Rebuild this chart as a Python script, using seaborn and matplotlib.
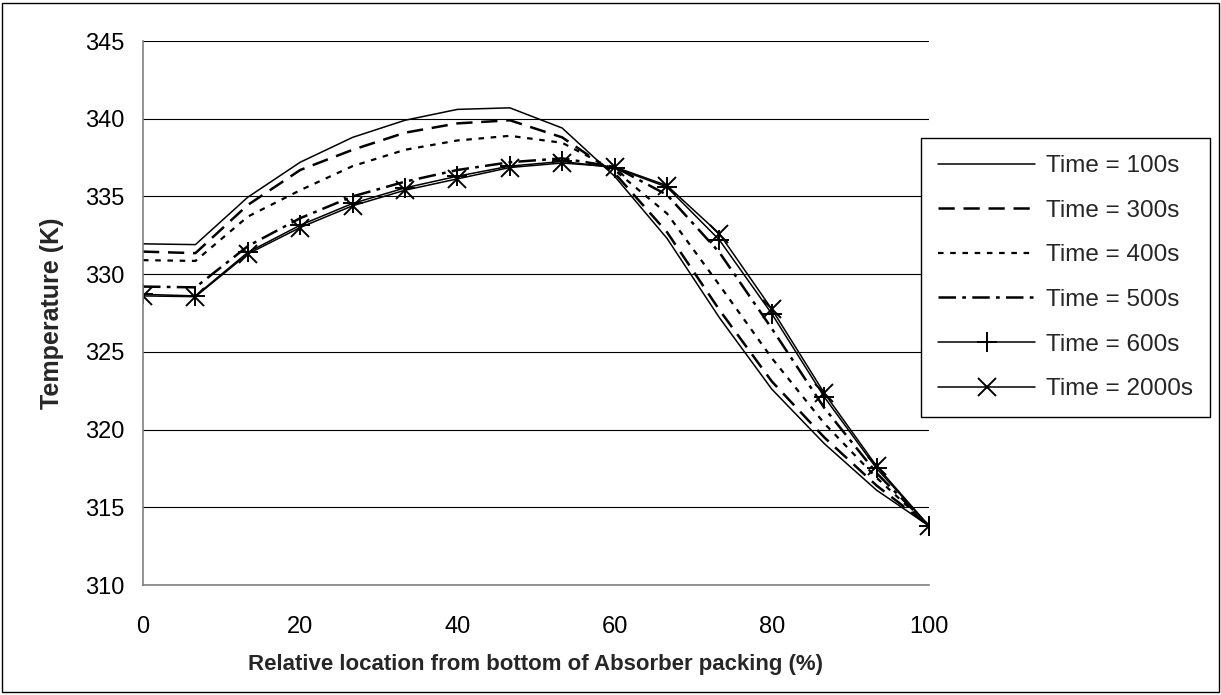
import matplotlib
matplotlib.use("Agg")
import matplotlib.pyplot as plt
import seaborn as sns
from matplotlib.patches import Rectangle

# Relative location along the absorber packing (%), bottom to top
location = [0, 6.67, 13.33, 20, 26.67, 33.33, 40, 46.67, 53.33,
            60, 66.67, 73.33, 80, 86.67, 93.33, 100]

# Temperature profiles (K) at successive times
temp_100s = [331.95, 331.9, 334.95, 337.2, 338.8, 339.9, 340.6, 340.7, 339.4,
             336.3, 332.3, 327.2, 322.6, 319.1, 316.1, 313.8]
temp_300s = [331.45, 331.35, 334.45, 336.7, 338.0, 339.1, 339.7, 339.9, 338.8,
             336.5, 332.7, 327.7, 323.1, 319.5, 316.4, 313.8]
temp_400s = [330.9, 330.85, 333.7, 335.4, 336.95, 338.0, 338.6, 338.9, 338.45,
             336.7, 333.9, 329.3, 324.6, 320.4, 316.9, 313.8]
temp_500s = [329.2, 329.15, 331.8, 333.6, 335.0, 335.95, 336.7, 337.2, 337.45,
             336.9, 335.1, 331.4, 326.5, 321.4, 317.2, 313.8]
temp_600s = [328.7, 328.6, 331.4, 333.15, 334.55, 335.55, 336.3, 336.95, 337.25,
             336.85, 335.6, 332.2, 327.45, 322.1, 317.5, 313.8]
temp_2000s = [328.6, 328.55, 331.3, 333.0, 334.4, 335.4, 336.13, 336.86, 337.15,
              336.9, 335.7, 332.6, 327.75, 322.35, 317.65, 313.8]

series_labels = ["Time = 100s", "Time = 300s", "Time = 400s",
                 "Time = 500s", "Time = 600s", "Time = 2000s"]
x_ticks = [0, 20, 40, 60, 80, 100]
y_ticks = [310, 315, 320, 325, 330, 335, 340, 345]

sns.set_theme(style="white")
plt.rcParams["font.family"] = ["Liberation Sans", "DejaVu Sans"]

W, H = 1221, 695
fig = plt.figure(figsize=(W / 100, H / 100), dpi=100)
ax = fig.add_axes([143 / W, 1 - 585 / H, (929 - 143) / W, (585 - 41) / H])

line_styles = [
    dict(linestyle="-", linewidth=1.1),
    dict(linestyle=(0, (6.5, 3.5)), linewidth=1.8),
    dict(linestyle=(0, (2.5, 3.0)), linewidth=1.6),
    dict(linestyle=(0, (7.0, 2.5, 1.5, 2.5)), linewidth=1.8),
    dict(linestyle="-", linewidth=1.1, marker="+", markersize=15,
         markeredgewidth=1.4, markeredgecolor="black"),
    dict(linestyle="-", linewidth=1.1, marker="x", markersize=12.5,
         markeredgewidth=1.4, markeredgecolor="black"),
]
profiles = [temp_100s, temp_300s, temp_400s, temp_500s, temp_600s, temp_2000s]

for label, values, style in zip(series_labels, profiles, line_styles):
    sns.lineplot(x=location, y=values, ax=ax, color="black", label=label,
                 **style)

ax.set_xlim(0, 100)
ax.set_ylim(310, 345)
ax.set_xticks(x_ticks)
ax.set_yticks(y_ticks)
ax.set_xticklabels([str(v) for v in x_ticks])
ax.set_yticklabels([str(v) for v in y_ticks])

ax.yaxis.grid(True, color="black", linewidth=0.8)
ax.xaxis.grid(False)
ax.set_axisbelow(True)
for side in ("top", "right"):
    ax.spines[side].set_visible(False)
for side in ("left", "bottom"):
    ax.spines[side].set_color("#808080")
    ax.spines[side].set_linewidth(1.2)

ax.tick_params(axis="both", direction="out", length=4.5, width=1,
               color="#808080", labelsize=17, labelcolor="black")
ax.tick_params(axis="x", pad=18)
ax.tick_params(axis="y", pad=9)

ax.set_ylabel("Temperature (K)", fontsize=18, fontweight="bold")
ax.set_xlabel("Relative location from bottom of Absorber packing (%)",
              fontsize=16, fontweight="bold")
ax.yaxis.set_label_coords(-0.1, 0.5)
ax.xaxis.set_label_coords(0.5, -0.126)

handles = ax.get_lines()[:6]
leg = ax.legend(handles, series_labels, loc="upper left",
                bbox_to_anchor=(921 / W, 1 - 138 / H),
                bbox_transform=fig.transFigure, borderaxespad=0,
                fontsize=17.5, frameon=True, fancybox=False,
                edgecolor="black", framealpha=1, handlelength=4.0,
                handletextpad=0.45, labelspacing=0.93, borderpad=0.7)
leg.get_frame().set_linewidth(1.0)

fig.patches.append(Rectangle((0.002, 0.004), 0.996, 0.992,
                             transform=fig.transFigure, fill=False,
                             edgecolor="black", linewidth=1.0))

fig.savefig("out.png", dpi=100)
